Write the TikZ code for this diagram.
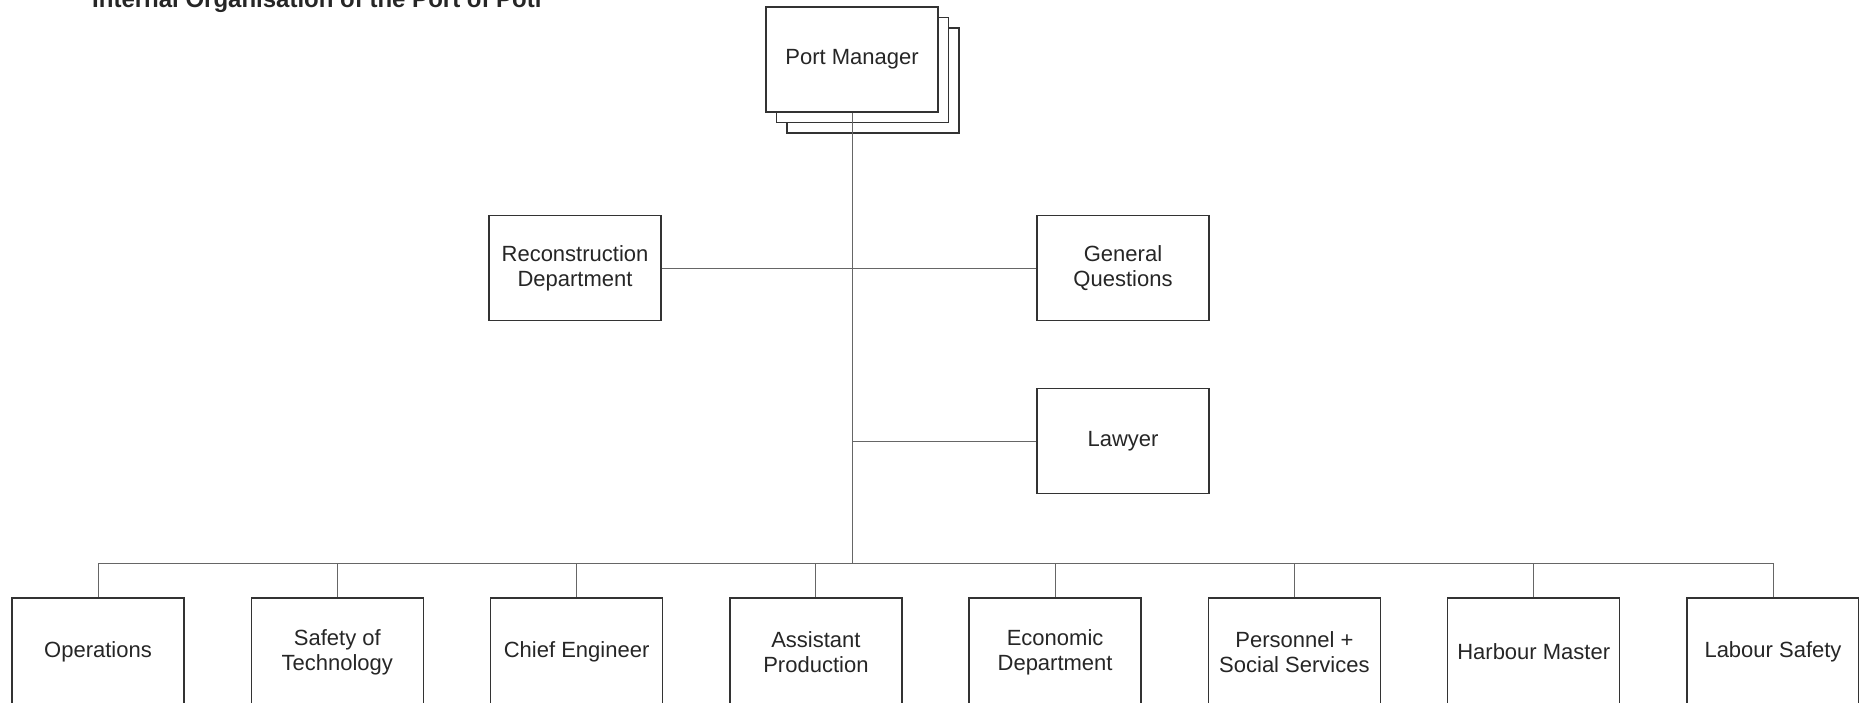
\documentclass[tikz,border=0pt]{standalone}
\usepackage{fontspec}
\setmainfont{Liberation Sans}

\begin{document}
\begin{tikzpicture}[x=1pt, y=-1pt,
        unit/.style={draw=black!80, line width=1.3pt, fill=white, minimum width=172pt,
            minimum height=105pt, inner sep=0pt, align=center,
            font=\fontsize{22}{25}\selectfont, text=black!85},
        link/.style={draw=black!60, line width=1pt}]
        \clip (0,0) rectangle (1859,702);

        % Title
        \node[anchor=base west, inner sep=0pt, text=black!85,
            font=\bfseries\fontsize{24}{28}\selectfont] (title) at (92,7)
            {Internal Organisation of the Port of Poti};

        % Draw the stacked sheets behind the manager
        \draw[unit] (787,28) rectangle (959,133);
        \draw[unit] (776.5,17.5) rectangle (948.5,122.5);
        \node[unit] (manager) at (852,59.5) {Port Manager};

        % Draw staff units
        \node[unit] (recon) at (575,268) {Reconstruction\\Department};
        \node[unit] (general) at (1123,268) {General\\Questions};
        \node[unit] (lawyer) at (1123,441) {Lawyer};

        % Draw departments
        \node[unit, minimum height=108pt] (ops) at (98,652) {Operations};
        \node[unit, minimum height=108pt] (safetech) at (337.3,652) {Safety of\\Technology};
        \node[unit, minimum height=108pt] (chief) at (576.6,652) {Chief Engineer};
        \node[unit, minimum height=108pt] (assist) at (815.9,652) {Assistant\\Production};
        \node[unit, minimum height=108pt] (econ) at (1055.1,652) {Economic\\Department};
        \node[unit, minimum height=108pt] (personnel) at (1294.4,652) {Personnel +\\Social Services};
        \node[unit, minimum height=108pt] (harbour) at (1533.7,652) {Harbour Master};
        \node[unit, minimum height=108pt] (labour) at (1773,652) {Labour Safety};

        % Draw the trunk and the bus
        \coordinate (bus) at (852,563);
        \draw[link] (manager.south) -- (bus);
        \draw[link] (recon.east) -- (general.west);
        \draw[link] (lawyer.west) -- (lawyer.west -| manager.south);
        \draw[link] (ops.north |- bus) -- (labour.north |- bus);

        % Draw drop lines
        \draw[link] (ops.north |- bus) -- (ops.north);
        \draw[link] (safetech.north |- bus) -- (safetech.north);
        \draw[link] (chief.north |- bus) -- (chief.north);
        \draw[link] (assist.north |- bus) -- (assist.north);
        \draw[link] (econ.north |- bus) -- (econ.north);
        \draw[link] (personnel.north |- bus) -- (personnel.north);
        \draw[link] (harbour.north |- bus) -- (harbour.north);
        \draw[link] (labour.north |- bus) -- (labour.north);

\end{tikzpicture}
\end{document}
